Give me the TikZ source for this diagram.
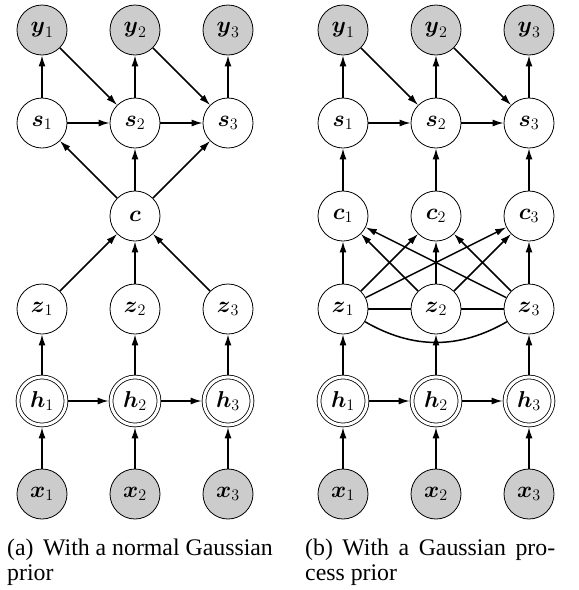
\RequirePackage{fix-cm}
\documentclass[tikz,border=0pt]{standalone}
\usepackage[no-math]{fontspec}
\setmainfont{Liberation Serif}
\usepackage{amsmath}
\usetikzlibrary{arrows.meta}
\begin{document}
\begin{tikzpicture}[x=1pt,y=-1pt,
  var/.style={circle,draw,line width=0.8pt,minimum size=50pt,inner sep=0pt,font=\fontsize{23}{28}\selectfont},
  obs/.style={var,fill=black!20},
  det/.style={var,double,double distance=3pt,minimum size=48pt,outer sep=2.3pt},
  edge/.style={line width=1.5pt,-{Latex[length=11pt,width=7pt]}},
  link/.style={line width=1.5pt},
  captext/.style={font=\fontsize{23.8}{24.5}\selectfont,anchor=base west,inner sep=0pt,align=left}
]
\useasboundingbox (0,0) rectangle (579,590);

% ---------- left diagram ----------
\foreach \i/\x in {1/42,2/135,3/228}{
  \node[obs] (ly\i) at (\x,30)  {$\boldsymbol{y}_\i$};
  \node[var] (ls\i) at (\x,123) {$\boldsymbol{s}_\i$};
  \node[var] (lz\i) at (\x,309) {$\boldsymbol{z}_\i$};
  \node[det] (lh\i) at (\x,401) {$\boldsymbol{h}_\i$};
  \node[obs] (lx\i) at (\x,494) {$\boldsymbol{x}_\i$};
}
\node[var] (lc) at (135,216) {$\boldsymbol{c}$};

\foreach \i in {1,2,3}{
  \draw[edge] (ls\i) -- (ly\i);
  \draw[edge] (lc) -- (ls\i);
  \draw[edge] (lz\i) -- (lc);
  \draw[edge] (lh\i) -- (lz\i);
  \draw[edge] (lx\i) -- (lh\i);
}
\draw[edge] (ly1) -- (ls2);
\draw[edge] (ly2) -- (ls3);
\draw[edge] (ls1) -- (ls2);
\draw[edge] (ls2) -- (ls3);
\draw[edge] (lh1) -- (lh2);
\draw[edge] (lh2) -- (lh3);

% ---------- right diagram ----------
\foreach \i/\x in {1/343,2/436,3/529}{
  \node[obs] (ry\i) at (\x,30)  {$\boldsymbol{y}_\i$};
  \node[var] (rs\i) at (\x,123) {$\boldsymbol{s}_\i$};
  \node[var] (rc\i) at (\x,216) {$\boldsymbol{c}_\i$};
  \node[var] (rz\i) at (\x,309) {$\boldsymbol{z}_\i$};
  \node[det] (rh\i) at (\x,401) {$\boldsymbol{h}_\i$};
  \node[obs] (rx\i) at (\x,494) {$\boldsymbol{x}_\i$};
}
\foreach \i in {1,2,3}{
  \draw[edge] (rs\i) -- (ry\i);
  \draw[edge] (rc\i) -- (rs\i);
  \draw[edge] (rh\i) -- (rz\i);
  \draw[edge] (rx\i) -- (rh\i);
  \foreach \j in {1,2,3}{
    \draw[edge] (rz\i) -- (rc\j);
  }
}
\draw[edge] (ry1) -- (rs2);
\draw[edge] (ry2) -- (rs3);
\draw[edge] (rs1) -- (rs2);
\draw[edge] (rs2) -- (rs3);
\draw[edge] (rh1) -- (rh2);
\draw[edge] (rh2) -- (rh3);
\draw[link] (rz1) -- (rz2);
\draw[link] (rz2) -- (rz3);
\draw[link] (rz1) to[bend right=30] (rz3);

% ---------- captions ----------
\node[captext] (capa) at (7,580) {(a)\hspace{0.4em}With a normal Gaussian\\prior};
\node[captext] (capb) at (305,580) {\makebox[250pt][s]{(b)\hspace{0.4em}With a Gaussian pro-}\\cess prior};
\end{tikzpicture}
\end{document}
